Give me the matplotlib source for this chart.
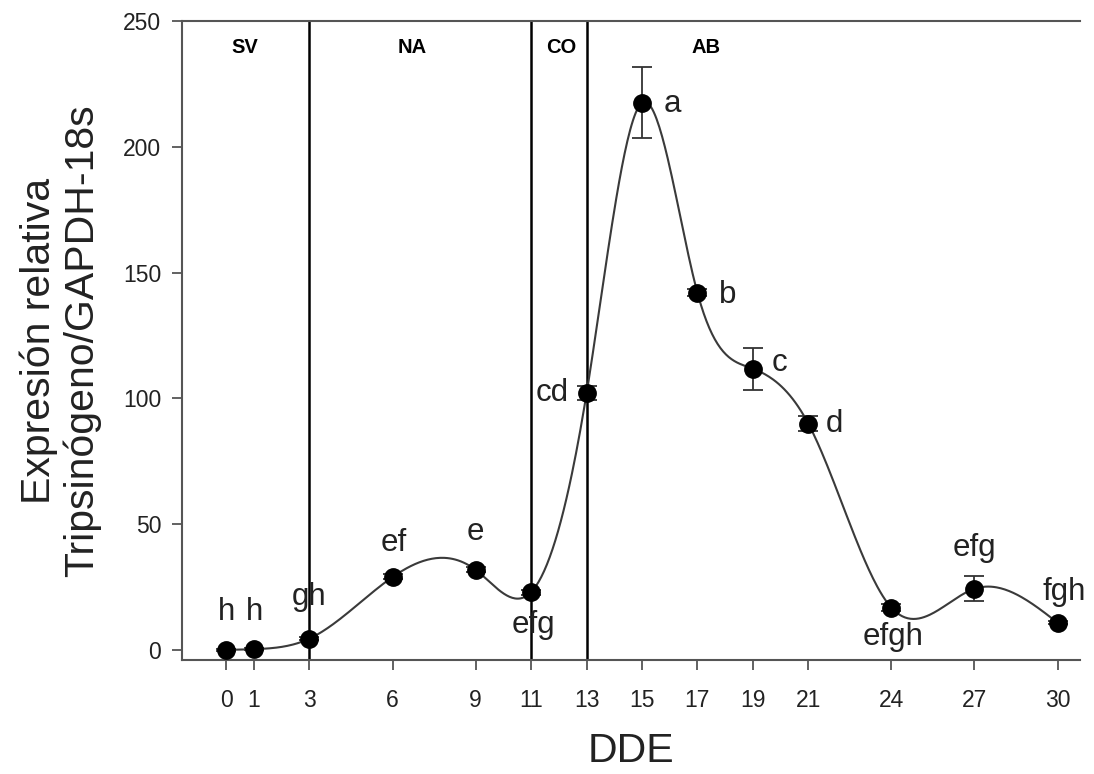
import numpy as np
import matplotlib
matplotlib.use("Agg")
import matplotlib.pyplot as plt

# ---- data ----
dde = [0, 1, 3, 6, 9, 11, 13, 15, 17, 19, 21, 24, 27, 30]
expr = [0, 0.3, 4.5, 29, 31.8, 23, 102, 217.5, 142, 111.8, 90, 16.8, 24.3, 10.8]
err = [0.3, 0.3, 0.5, 1.0, 1.0, 1.0, 2.8, 14.2, 1.5, 8.3, 2.8, 1.5, 5.0, 0.5]
letters = ["h", "h", "gh", "ef", "e", "efg", "cd", "a", "b", "c", "d", "efgh", "efg", "fgh"]
letter_x = [0, 1, 3, 6.05, 9, 11.1, 11.75, 16.1, 18.1, 19.95, 21.95, 24.05, 27, 30.25]
letter_y = [15, 15, 21, 42.5, 47, 10, 102, 217, 141, 114, 90, 5, 40.5, 23]

stage_bounds = [3, 11, 13]
stages = ["SV", "NA", "CO", "AB"]
stage_x = [0.65, 6.7, 12.1, 17.3]


def natural_spline(x, y, xs):
    x = np.asarray(x, float)
    y = np.asarray(y, float)
    n = len(x)
    h = np.diff(x)
    A = np.zeros((n, n))
    b = np.zeros(n)
    A[0, 0] = A[-1, -1] = 1
    for i in range(1, n - 1):
        A[i, i - 1] = h[i - 1]
        A[i, i] = 2 * (h[i - 1] + h[i])
        A[i, i + 1] = h[i]
        b[i] = 6 * ((y[i + 1] - y[i]) / h[i] - (y[i] - y[i - 1]) / h[i - 1])
    M = np.linalg.solve(A, b)
    idx = np.clip(np.searchsorted(x, xs) - 1, 0, n - 2)
    x0, x1 = x[idx], x[idx + 1]
    hh = x1 - x0
    t0, t1 = x1 - xs, xs - x0
    return (M[idx] * t0 ** 3 / (6 * hh) + M[idx + 1] * t1 ** 3 / (6 * hh)
            + (y[idx] / hh - M[idx] * hh / 6) * t0
            + (y[idx + 1] / hh - M[idx + 1] * hh / 6) * t1)


plt.rcParams['font.family'] = ['Liberation Sans', 'DejaVu Sans']

fig = plt.figure(figsize=(10.94, 7.74), dpi=100)
ax = fig.add_axes([0.1664, 0.1473, 0.8206, 0.8256])

xs = np.linspace(0, 30, 600)
ax.plot(xs, natural_spline(dde, expr, xs), color='#3a3a3a', lw=1.5, zorder=2)
ax.errorbar(dde, expr, yerr=err, fmt='o', color='black', ms=12.5,
            ecolor='#333333', elinewidth=1.3, capsize=7, capthick=1.3, zorder=3)

for xb in stage_bounds:
    ax.axvline(xb, color='black', lw=1.8, zorder=1)
for name, sx in zip(stages, stage_x):
    ax.text(sx, 239.5, name, ha='center', va='center', fontsize=14.5, fontweight='bold')

for lab, lx, ly in zip(letters, letter_x, letter_y):
    ax.text(lx, ly, lab, ha='center', va='center', fontsize=22.5, color='#222222')

ax.set_xlim(-1.6, 30.8)
ax.set_ylim(-4, 250)
ax.set_xticks(dde)
ax.set_yticks([0, 50, 100, 150, 200, 250])

for side in ['left', 'top', 'bottom']:
    ax.spines[side].set_color('#555555')
    ax.spines[side].set_linewidth(1.5)
ax.spines['right'].set_visible(False)
ax.tick_params(axis='both', direction='out', length=7, width=1.3, color='#555555',
               labelsize=16.5, labelcolor='#222222')
ax.tick_params(axis='x', pad=14)
ax.tick_params(axis='y', pad=8)

ax.set_xlabel('DDE', fontsize=29.5, color='#222222', labelpad=14)
ax.set_ylabel('Expresión relativa\nTripsinógeno/GAPDH-18s', fontsize=29.5,
              color='#222222', labelpad=16, linespacing=1.15)

fig.savefig('out.png', dpi=100)
